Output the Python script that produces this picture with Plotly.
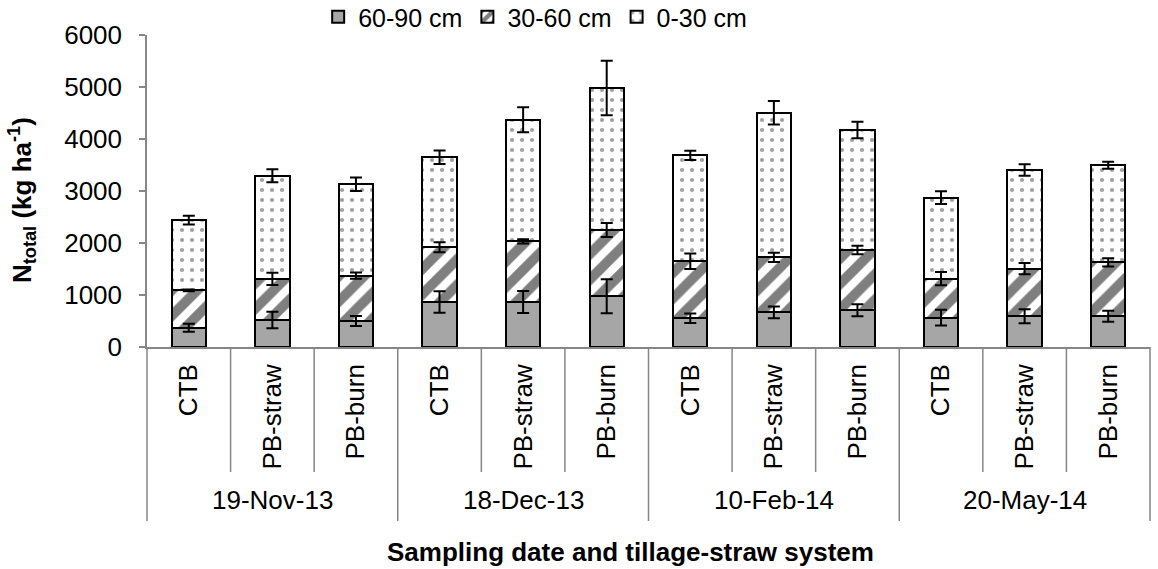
import plotly.graph_objects as go
import numpy as np

dates = ["19-Nov-13", "18-Dec-13", "10-Feb-14", "20-May-14"]
systems = ["CTB", "PB-straw", "PB-burn"]

layer_names = ["60-90 cm", "30-60 cm", "0-30 cm"]
n_6090 = [370, 519, 500, 865, 865, 974, 552, 667, 705, 564, 590, 590]
n_3060 = [720, 789, 872, 1052, 1167, 1276, 1096, 1057, 1160, 750, 916, 1038]
n_030 = [1350, 1986, 1756, 1731, 2340, 2731, 2038, 2782, 2308, 1558, 1898, 1866]

err_6090 = [75, 160, 96, 208, 210, 327, 90, 112, 115, 150, 135, 106]
err_3060 = [18, 118, 60, 96, 40, 135, 150, 90, 80, 128, 109, 80]
err_030 = [83, 125, 130, 130, 240, 522, 90, 225, 160, 122, 112, 67]

FONT = "Liberation Sans, Arial, sans-serif"
AX = "#868686"

xpos = np.arange(len(dates) * len(systems))
ticktext = systems * len(dates)

layers = [n_6090, n_3060, n_030]
errs = [err_6090, err_3060, err_030]
markers = [
    dict(color="#a6a6a6", line=dict(color="black", width=2)),
    dict(color="white", line=dict(color="black", width=2),
         pattern=dict(shape="/", fgcolor="black", bgcolor="white", size=18, solidity=0.55)),
    dict(color="white", line=dict(color="black", width=2),
         pattern=dict(shape=".", fgcolor="#444444", bgcolor="white", size=10, solidity=0.14)),
]

fig = go.Figure()
for name, vals, mk in zip(layer_names, layers, markers):
    fig.add_trace(go.Bar(x=xpos, y=vals, name=name, marker=mk, width=0.41,
                         hoverinfo="skip"))

cum = np.zeros(len(xpos))
for vals, e in zip(layers, errs):
    cum = cum + np.array(vals)
    fig.add_trace(go.Scatter(x=xpos, y=cum, mode="markers",
                             marker=dict(size=1, color="rgba(0,0,0,0)"),
                             error_y=dict(type="data", array=e, color="black",
                                          thickness=2, width=6),
                             showlegend=False, hoverinfo="skip"))

H = 312.0
fig.update_layout(
    barmode="stack",
    width=1158, height=569,
    margin=dict(l=147, r=8, t=35, b=222, autoexpand=False),
    plot_bgcolor="white", paper_bgcolor="white",
    font=dict(family=FONT, size=26, color="black"),
    legend=dict(orientation="h", x=0.387, xanchor="center", y=(347 - 17) / H, yref="paper",
                yanchor="middle", font=dict(size=25), itemwidth=30, traceorder="normal",
                tracegroupgap=0),
    showlegend=True,
)
fig.update_yaxes(range=[0, 6000], dtick=1000, showgrid=False, zeroline=False,
                 showline=True, linecolor=AX, linewidth=1.5,
                 ticks="outside", ticklen=6, tickcolor=AX, tickwidth=1.5,
                 tickfont=dict(size=26), ticklabelstandoff=12)
fig.update_xaxes(range=[-0.5, len(xpos) - 0.5], tickvals=xpos, ticktext=ticktext,
                 tickangle=-90, showgrid=False, zeroline=False,
                 showline=True, linecolor=AX, linewidth=1.5, ticks="",
                 tickfont=dict(size=26), ticklabelstandoff=5)

n = len(xpos)
for k in range(n + 1):
    is_group = (k % len(systems) == 0)
    ybot = (347 - 521) / H if is_group else (347 - 472) / H
    fig.add_shape(type="line", xref="paper", yref="paper",
                  x0=k / n, x1=k / n, y0=0, y1=ybot,
                  line=dict(color=AX, width=1.5))

for i, d in enumerate(dates):
    fig.add_annotation(x=i * len(systems) + 1, xref="x", y=(347 - 500) / H, yref="paper",
                       text=d, showarrow=False, font=dict(size=26),
                       xanchor="center", yanchor="middle")

fig.add_annotation(x=(630 - 147) / 1003, xref="paper", y=(347 - 552) / H, yref="paper",
                   text="<b>Sampling date and tillage-straw system</b>", showarrow=False,
                   font=dict(size=26), xanchor="center", yanchor="middle")
fig.add_annotation(x=(22 - 147) / 1003, xref="paper", y=(347 - 200) / H, yref="paper",
                   text="<b>N<sub>total</sub> (kg ha<sup>-1</sup>)</b>", textangle=-90,
                   showarrow=False, font=dict(size=26), xanchor="center", yanchor="middle")

fig.write_html("out.html")
